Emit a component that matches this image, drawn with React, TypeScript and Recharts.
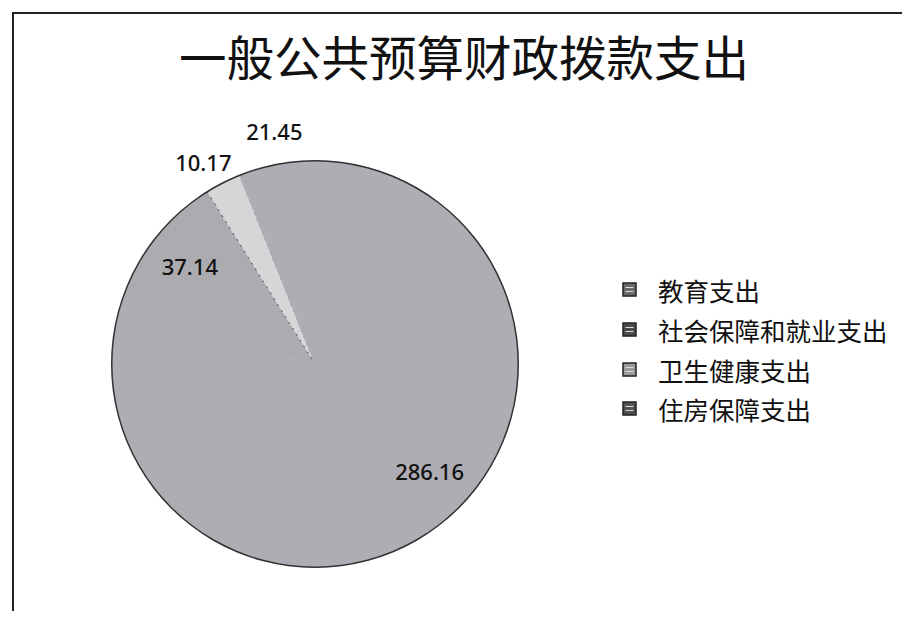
import { PieChart, Pie, Cell, Legend } from "recharts";

const categories = ["教育支出", "社会保障和就业支出", "卫生健康支出", "住房保障支出"];
const amounts = [286.16, 37.14, 10.17, 21.45];
const valueLabels = ["286.16", "37.14", "10.17", "21.45"];

const sliceColors = ["#adadb3", "#ababb0", "#d6d6d8", "#adadb3"];
const iconFills = ["#6a6a6a", "#4a4a4a", "#9a9a9a", "#505050"];
// label placement per slice: radius and angle nudge (degrees)
const labelRadius = [157, 159, 231, 237];
const labelNudge = [12, 1, 2, -1];

const data = categories.map((name, i) => ({ name, value: amounts[i] }));
const total = amounts.reduce((s, v) => s + v, 0);
const outline = [{ name: "total", value: total }];

const RAD = Math.PI / 180;

const renderLabel = (props: any) => {
  const { cx, cy, midAngle, index } = props;
  const a = (midAngle + labelNudge[index]) * RAD;
  const r = labelRadius[index];
  const x = cx + r * Math.cos(-a);
  const y = cy + r * Math.sin(-a);
  return (
    <text
      x={x}
      y={y}
      fill="#111"
      fontSize={22}
      fontWeight={500}
      fontFamily="'Noto Sans', sans-serif"
      textAnchor="middle"
      dominantBaseline="central"
    >
      {valueLabels[index]}
    </text>
  );
};

const renderLegend = (props: any) => {
  const { payload } = props;
  return (
    <div style={{ fontFamily: "'Noto Sans CJK SC', sans-serif" }}>
      {payload.map((entry: any, i: number) => (
        <div
          key={entry.value}
          style={{ display: "flex", alignItems: "center", height: 39.7, fontSize: 25.5, color: "#111" }}
        >
          <svg width={15} height={15} style={{ marginRight: 21 }}>
            <rect x={1} y={1} width={13} height={13} fill={iconFills[i]} stroke="#222" strokeWidth={1.5} />
            <line x1={3.5} y1={5.5} x2={11.5} y2={5.5} stroke="#ddd" strokeWidth={1} />
            <line x1={3.5} y1={9.5} x2={11.5} y2={9.5} stroke="#ddd" strokeWidth={1} />
          </svg>
          <span>{categories[i]}</span>
        </div>
      ))}
    </div>
  );
};

export default function App() {
  return (
    <div style={{ position: "relative", width: 894, height: 603, overflow: "hidden", background: "#fff" }}>
      <div
        style={{
          position: "absolute",
          left: 4,
          top: 4,
          width: 1000,
          height: 700,
          borderTop: "2px solid #222",
          borderLeft: "2px solid #222",
        }}
      />
      <div
        style={{
          position: "absolute",
          left: 0,
          top: 22,
          width: 912,
          textAlign: "center",
          fontSize: 47.5,
          lineHeight: "52px",
          color: "#111",
          fontFamily: "'Noto Sans CJK SC', sans-serif",
        }}
      >
        一般公共预算财政拨款支出
      </div>
      <div style={{ position: "absolute", left: 0, top: 0 }}>
        <PieChart width={894} height={603} margin={{ top: 0, right: 0, bottom: 0, left: 0 }}>
          <Pie
            data={data}
            dataKey="value"
            nameKey="name"
            cx={307}
            cy={356}
            outerRadius={203}
            startAngle={90}
            endAngle={-270}
            label={renderLabel}
            labelLine={false}
            isAnimationActive={false}
          >
            {data.map((d, i) => (
              <Cell
                key={d.name}
                fill={sliceColors[i]}
                stroke={i === 2 ? "#444" : sliceColors[i]}
                strokeWidth={1}
                strokeDasharray={i === 2 ? "2 5" : undefined}
              />
            ))}
          </Pie>
          <Pie
            data={outline}
            dataKey="value"
            cx={307}
            cy={356}
            innerRadius={202.5}
            outerRadius={204}
            startAngle={90}
            endAngle={-270}
            fill="#333"
            stroke="none"
            legendType="none"
            isAnimationActive={false}
          />
          <Legend
            layout="vertical"
            align="right"
            verticalAlign="top"
            content={() => renderLegend({ payload: data.map((d) => ({ value: d.name })) })}
            wrapperStyle={{ left: 614, top: 262, width: 280 }}
          />
        </PieChart>
      </div>
    </div>
  );
}
